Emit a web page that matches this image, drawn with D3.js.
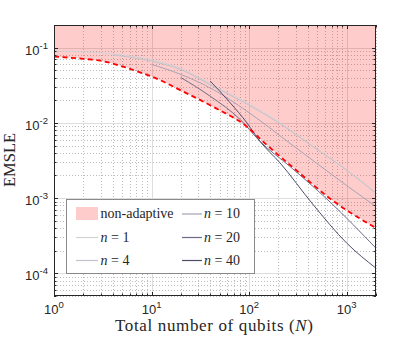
<!DOCTYPE html>
<html><head><meta charset="utf-8">
<script src="https://cdn.jsdelivr.net/npm/d3@7"></script>
<style>body{margin:0;background:#fff}</style>
</head><body>
<svg id="c" width="415" height="343"></svg>
<script>
// ---- data ----
const xTickValues = [1, 10, 100, 1000];
const xTickExponents = ["0", "1", "2", "3"];
const yTickValues = [1e-4, 1e-3, 1e-2, 1e-1];
const yTickExponents = ["-4", "-3", "-2", "-1"];

const N_nonAdaptive = [1, 2, 3, 5, 7.6, 10, 20, 43, 95, 140, 310, 680, 2000];
const E_nonAdaptive = [0.076, 0.071, 0.067, 0.0564, 0.047, 0.0414, 0.027, 0.0163, 0.0089, 0.0056, 0.0023, 0.00098, 0.0004];

const N_n1 = [1, 3, 10, 20, 43, 95, 208, 455, 1000, 2000];
const E_n1 = [0.090, 0.0853, 0.0688, 0.053, 0.0314, 0.0185, 0.0100, 0.00487, 0.00238, 0.00117];

const N_n4 = [4, 10, 20, 43, 95, 208, 455, 1000, 2000];
const E_n4 = [0.080, 0.066, 0.051, 0.0305, 0.0178, 0.0097, 0.0048, 0.00235, 0.00116];

const N_n10 = [10, 20, 43, 95, 264, 1000, 2000];
const E_n10 = [0.0599, 0.044, 0.0277, 0.0143, 0.00533, 0.00147, 0.00077];

const N_n20 = [20, 40, 81, 129, 262, 675, 2000];
const E_n20 = [0.040, 0.0226, 0.0111, 0.0057, 0.00264, 0.00089, 0.000216];

const N_n40 = [40, 64, 95, 129, 208, 455, 1000, 2000];
const E_n40 = [0.0359, 0.0185, 0.0100, 0.0057, 0.00293, 0.000815, 0.000253, 0.000117];

const nLabels = [1, 4, 10, 20, 40];
const lineColors = ["#d2d2d6", "#c2c2ca", "#a4a4b6", "#6c6c88", "#4e4e6c"];
const nonAdaptiveLabel = "non-adaptive";
const xLabel = "Total number of qubits (";
const xLabelVar = "N";
const yLabel = "EMSLE";

// ---- layout ----
const L = 54, R = 376, T = 25, B = 296;
const svg = d3.select("#c");
const x = d3.scaleLog().domain([1, 2000]).range([L, R]);
const y = d3.scaleLog().domain([5e-5, 0.2]).range([B, T]);

svg.append("defs").append("clipPath").attr("id", "clip")
  .append("rect").attr("x", L).attr("y", T).attr("width", R - L).attr("height", B - T);

function minors(dom) {
  const out = [];
  const lo = Math.floor(Math.log10(dom[0])), hi = Math.ceil(Math.log10(dom[1]));
  for (let e = lo; e <= hi; e++) for (let k = 2; k <= 9; k++) {
    const v = k * Math.pow(10, e);
    if (v >= dom[0] * 0.9999 && v <= dom[1] * 1.0001) out.push(v);
  }
  return out;
}
const xMin = minors(x.domain()), yMin = minors(y.domain());

// grid
const grid = svg.append("g");
grid.selectAll(".xm").data(xMin).enter().append("line")
  .attr("x1", d => Math.round(x(d)) + 0.5).attr("x2", d => Math.round(x(d)) + 0.5)
  .attr("y1", T).attr("y2", B).attr("stroke", "#bdbdbd").attr("stroke-dasharray", "1,2");
grid.selectAll(".ym").data(yMin).enter().append("line")
  .attr("y1", d => Math.round(y(d)) + 0.5).attr("y2", d => Math.round(y(d)) + 0.5)
  .attr("x1", L).attr("x2", R).attr("stroke", "#bdbdbd").attr("stroke-dasharray", "1,2");
grid.selectAll(".xM").data(xTickValues).enter().append("line")
  .attr("x1", d => Math.round(x(d)) + 0.5).attr("x2", d => Math.round(x(d)) + 0.5)
  .attr("y1", T).attr("y2", B).attr("stroke", "#dedede");
grid.selectAll(".yM").data(yTickValues).enter().append("line")
  .attr("y1", d => Math.round(y(d)) + 0.5).attr("y2", d => Math.round(y(d)) + 0.5)
  .attr("x1", L).attr("x2", R).attr("stroke", "#dedede");

const plot = svg.append("g").attr("clip-path", "url(#clip)");
const naData = N_nonAdaptive.map((n, i) => [n, E_nonAdaptive[i]]);

// pink region above the non-adaptive bound
plot.append("path").datum(naData)
  .attr("d", d3.area().x(d => x(d[0])).y0(T).y1(d => y(d[1])).curve(d3.curveMonotoneX))
  .attr("fill", "#ff0000").attr("fill-opacity", 0.2);

const line = d3.line().x(d => x(d[0])).y(d => y(d[1])).curve(d3.curveMonotoneX);
const seriesN = [N_n1, N_n4, N_n10, N_n20, N_n40];
const seriesE = [E_n1, E_n4, E_n10, E_n20, E_n40];
seriesN.forEach((ns, s) => {
  plot.append("path").datum(ns.map((n, i) => [n, seriesE[s][i]]))
    .attr("d", line).attr("fill", "none").attr("stroke", lineColors[s]).attr("stroke-width", 1);
});

plot.append("path").datum(naData).attr("d", line)
  .attr("fill", "none").attr("stroke", "#ff0000").attr("stroke-width", 1.8)
  .attr("stroke-dasharray", "5,3.5");

// frame + ticks
const ax = svg.append("g").attr("stroke", "#262626").attr("stroke-width", 1);
ax.append("rect").attr("x", L + 0.5).attr("y", T + 0.5).attr("width", R - L - 1).attr("height", B - T - 1).attr("fill", "none");
function xt(vals, len) {
  vals.forEach(v => {
    const px = Math.round(x(v)) + 0.5;
    ax.append("line").attr("x1", px).attr("x2", px).attr("y1", B).attr("y2", B - len);
    ax.append("line").attr("x1", px).attr("x2", px).attr("y1", T).attr("y2", T + len);
  });
}
function yt(vals, len) {
  vals.forEach(v => {
    const py = Math.round(y(v)) + 0.5;
    ax.append("line").attr("y1", py).attr("y2", py).attr("x1", L).attr("x2", L + len);
    ax.append("line").attr("y1", py).attr("y2", py).attr("x1", R).attr("x2", R - len);
  });
}
xt(xTickValues, 4); xt(xMin, 2.5); yt(yTickValues, 4); yt(yMin, 2.5);

// tick labels
const tf = "Liberation Sans, Arial, sans-serif";
xTickValues.forEach((v, i) => {
  const t = svg.append("text").attr("x", x(v)).attr("y", 313.5).attr("text-anchor", "middle")
    .attr("font-family", tf).attr("font-size", 13).attr("fill", "#262626");
  t.append("tspan").text("10");
  t.append("tspan").attr("dy", -6).attr("font-size", 9.5).text(xTickExponents[i]);
});
yTickValues.forEach((v, i) => {
  const t = svg.append("text").attr("x", 48).attr("y", y(v) + 7).attr("text-anchor", "end")
    .attr("font-family", tf).attr("font-size", 13).attr("fill", "#262626");
  t.append("tspan").text("10");
  t.append("tspan").attr("dy", -6).attr("font-size", 9.5).text(yTickExponents[i]);
});

// axis labels
const sf = "Liberation Serif, Times New Roman, serif";
const xl = svg.append("text").attr("x", 214).attr("y", 331).attr("text-anchor", "middle")
  .attr("font-family", sf).attr("font-size", 17).attr("fill", "#262626")
  .attr("textLength", 198).attr("lengthAdjust", "spacing");
xl.append("tspan").text(xLabel);
xl.append("tspan").attr("font-style", "italic").text(xLabelVar);
xl.append("tspan").text(")");
svg.append("text").attr("transform", "translate(15,160) rotate(-90)").attr("text-anchor", "middle")
  .attr("font-family", sf).attr("font-size", 16.5).attr("fill", "#262626").text(yLabel);

// legend
const lg = svg.append("g");
lg.append("rect").attr("x", 66.5).attr("y", 199.5).attr("width", 188).attr("height", 74)
  .attr("fill", "#fff").attr("stroke", "#8a8a8a").attr("stroke-width", 1);
const rows = [213.5, 237, 260];
const cols = [[76, 98, 100.5], [182, 202, 204]];
const entries = [{type: "patch"}].concat(nLabels.map((n, i) => ({type: "line", n: n, color: lineColors[i]})));
entries.forEach((e, i) => {
  const c = cols[Math.floor(i / 3)], r = rows[i % 3];
  if (e.type === "patch") {
    lg.append("rect").attr("x", c[0]).attr("y", r - 6.5).attr("width", c[1] - c[0]).attr("height", 13).attr("fill", "#ffcccc");
    lg.append("text").attr("x", c[2]).attr("y", r + 4.5).attr("font-family", sf).attr("font-size", 14)
      .attr("fill", "#262626").text(nonAdaptiveLabel);
  } else {
    lg.append("line").attr("x1", c[0]).attr("x2", c[1]).attr("y1", r + 0.5).attr("y2", r + 0.5)
      .attr("stroke", e.color).attr("stroke-width", 1.2);
    const t = lg.append("text").attr("x", c[2]).attr("y", r + 4.5).attr("font-family", sf).attr("font-size", 14)
      .attr("fill", "#262626").attr("xml:space", "preserve");
    t.append("tspan").attr("font-style", "italic").text("n");
    t.append("tspan").text(" = " + e.n);
  }
});
</script>
</body></html>
